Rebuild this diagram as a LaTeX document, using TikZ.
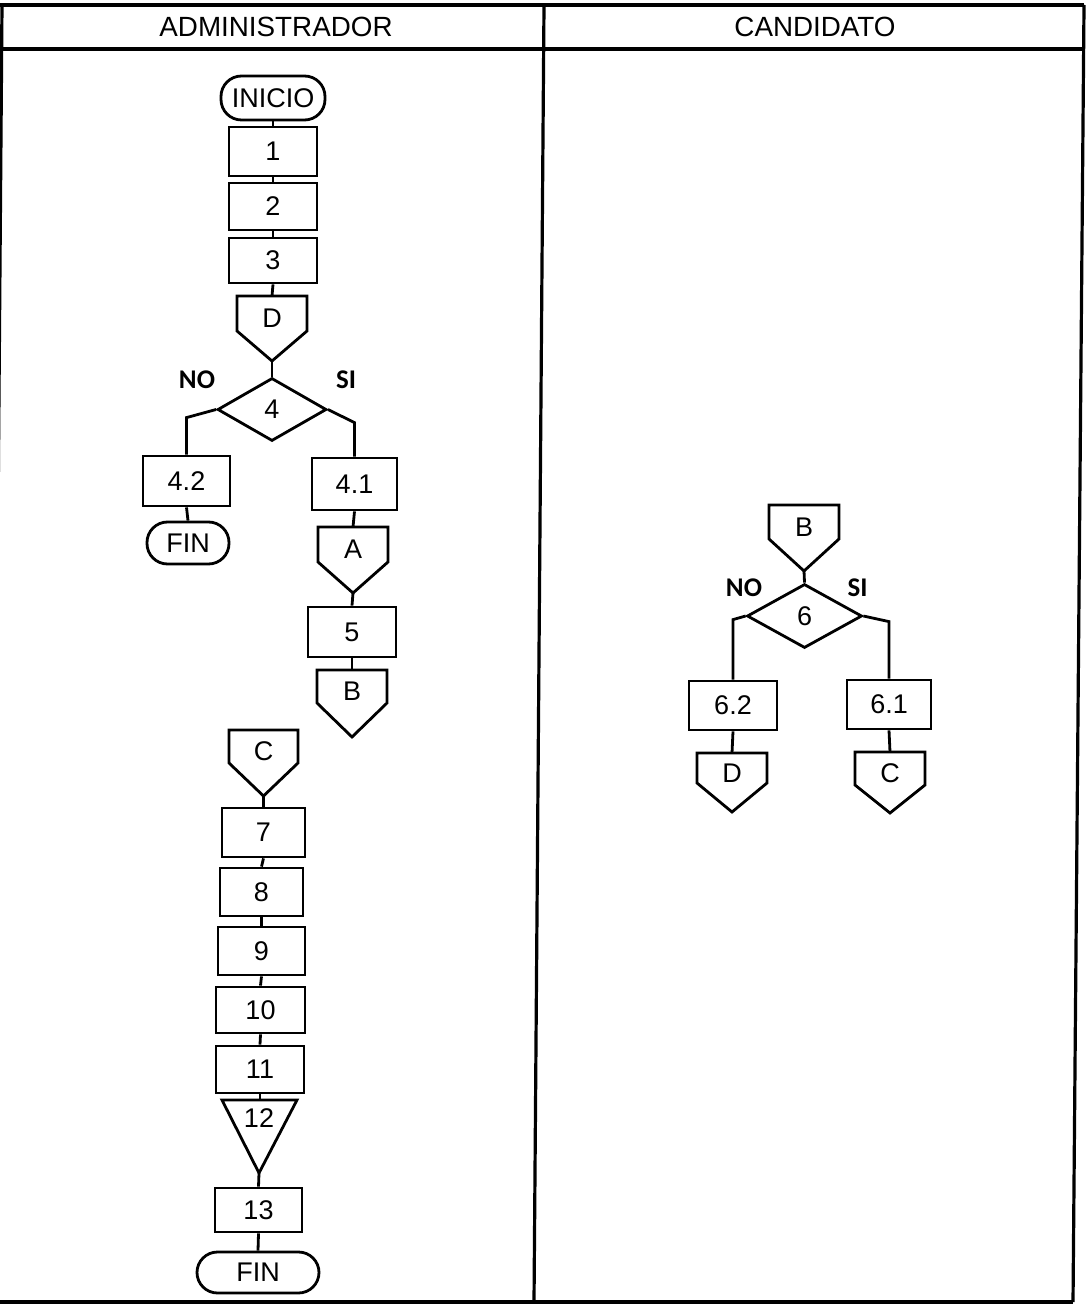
\documentclass[tikz,border=0pt]{standalone}
\usepackage{fontspec}
\setmainfont{Liberation Sans}
\newfontfamily\lblfont{Carlito}
\usetikzlibrary{shapes.geometric,calc}
\newcommand\myfs{\fontsize{13.5}{16}\selectfont}
% #1 name, #2 cx, #3 top, #4 half width, #5 shoulder y, #6 tip y, #7 label
\newcommand\offpg[7]{%
  \draw[shp] (#2-#4,#3) -- (#2+#4,#3) -- (#2+#4,#5) -- (#2,#6) -- (#2-#4,#5) -- cycle;
  \node[txt] (#1) at (#2,{(#3+#5)/2+5}) {#7};
  \coordinate (#1-top) at (#2,#3);
  \coordinate (#1-tip) at (#2,#6);
}
\begin{document}
\begin{tikzpicture}[x=0.5pt,y=-0.5pt, line join=miter,
  shp/.style={draw, line width=1.4pt},
  box/.style={shp, rectangle, minimum width=44pt, minimum height=24.5pt, inner sep=0pt, font=\myfs},
  term/.style={shp, rectangle, rounded corners=10.25pt, minimum height=21pt, inner sep=0pt, font=\myfs},
  dia/.style={shp, diamond, minimum width=54.5pt, minimum height=31.5pt, inner sep=0pt, font=\myfs},
  txt/.style={font=\myfs, inner sep=0pt},
  lbl/.style={font=\lblfont\bfseries\fontsize{13.5}{16}\selectfont, inner sep=0pt},
  ln/.style={line width=1.4pt},
  frame/.style={line width=1.6pt}]
\useasboundingbox (0,0) rectangle (1091,1304);
\clip (0,0) rectangle (1091,1304);
\fill[white] (0,0) rectangle (1091,1304);

% table frame
\coordinate (tl) at (2,5);
\coordinate (bl) at (-8,1302);
\coordinate (tr) at (1084,5);
\coordinate (br) at (1073,1302);
\coordinate (tm) at (544,5);
\coordinate (bm) at (534,1302);
\draw[frame] (tl) -- (bl);
\draw[frame] (tr) -- (br);
\draw[frame] (tm) -- (bm);
\draw[frame] (-10,5) -- (1084,5);
\draw[frame] (-10,49) -- (1084,49);
\draw[frame] (-10,1302) -- (1073,1302);
\node[txt, font=\fontsize{13.9}{16}\selectfont] (hadm) at (276,27) {ADMINISTRADOR};
\node[txt, font=\fontsize{13.9}{16}\selectfont] (hcand) at (815,27) {CANDIDATO};

% ---------- ADMINISTRADOR ----------
\node[term, minimum width=52pt, minimum height=22pt] (ini) at (273,98) {INICIO};
\node[box] (n1) at (273,151.5) {1};
\node[box, minimum height=23.5pt] (n2) at (273,206.5) {2};
\node[box, minimum height=22.5pt] (n3) at (273,260.5) {3};
\offpg{D}{272}{296}{35}{331}{361}{D}
\node[dia] (d4) at (272,409.5) {4};
\node[lbl] (no4) at (197,380) {NO};
\node[lbl] (si4) at (346,380) {SI};
\node[box, minimum width=43.5pt, minimum height=25pt] (n42) at (186.5,481) {4.2};
\node[box, minimum width=42.5pt, minimum height=26pt] (n41) at (354.5,484) {4.1};
\node[term, minimum width=41pt] (fin1) at (188,543) {FIN};
\offpg{A}{353}{527}{35}{562}{593}{A}
\node[box, minimum height=25pt] (n5) at (352,632) {5};
\offpg{B}{352}{670}{35}{703}{737}{B}

\offpg{C}{263.5}{730}{34.5}{763}{796}{C}
\node[box, minimum width=41.5pt] (n7) at (263.5,832.5) {7};
\node[box, minimum width=41.5pt, minimum height=24pt] (n8) at (261.5,892) {8};
\node[box, minimum width=43.5pt, minimum height=24pt] (n9) at (261.5,951) {9};
\node[box, minimum width=44.5pt, minimum height=23pt] (n10) at (260.5,1010) {10};
\node[box, minimum height=23.5pt] (n11) at (260,1069.5) {11};
\draw[shp] (222,1100) -- (297,1100) -- (259,1173) -- cycle;
\coordinate (T-top) at (260,1100);
\coordinate (T-tip) at (259,1173);
\node[txt] (n12) at (259,1118) {12};
\node[box, minimum width=43.5pt, minimum height=22pt] (n13) at (258.5,1210) {13};
\node[term, minimum width=61pt, minimum height=20.5pt] (fin2) at (258,1272.5) {FIN};

\draw[ln] (ini.south) -- (n1.north);
\draw[ln] (n1.south) -- (n2.north);
\draw[ln] (n2.south) -- (n3.north);
\draw[ln] (n3.south) -- (D-top);
\draw[ln] (D-tip) -- (d4.north);
\draw[ln] (d4.west) -- ($(n42.north)+(0,-37)$) -- (n42.north);
\draw[ln] (d4.east) -- ($(n41.north)+(0,-34)$) -- (n41.north);
\draw[ln] (n42.south) -- (fin1.north);
\draw[ln] (n41.south) -- (A-top);
\draw[ln] (A-tip) -- (n5.north);
\draw[ln] (n5.south) -- (B-top);
\draw[ln] (C-tip) -- (n7.north);
\draw[ln] (n7.south) -- (n8.north);
\draw[ln] (n8.south) -- (n9.north);
\draw[ln] (n9.south) -- (n10.north);
\draw[ln] (n10.south) -- (n11.north);
\draw[ln] (n11.south) -- (T-top);
\draw[ln] (T-tip) -- (n13.north);
\draw[ln] (n13.south) -- (fin2.north);

% ---------- CANDIDATO ----------
\offpg{B2}{804}{505}{35}{539}{571}{B}
\node[dia, minimum width=57.5pt, minimum height=32pt] (d6) at (804.5,616) {6};
\node[lbl] (no6) at (744,588) {NO};
\node[lbl] (si6) at (857.5,588) {SI};
\node[box] (n62) at (733,705.5) {6.2};
\node[box, minimum width=42pt] (n61) at (889,704.5) {6.1};
\offpg{D2}{732}{753}{35}{783}{812}{D}
\offpg{C2}{890}{752}{35}{785}{813}{C}

\draw[ln] (B2-tip) -- (d6.north);
\draw[ln] (d6.west) -- ($(n62.north)+(0,-60)$) -- (n62.north);
\draw[ln] (d6.east) -- ($(n61.north)+(0,-57)$) -- (n61.north);
\draw[ln] (n62.south) -- (D2-top);
\draw[ln] (n61.south) -- (C2-top);
\end{tikzpicture}
\end{document}
